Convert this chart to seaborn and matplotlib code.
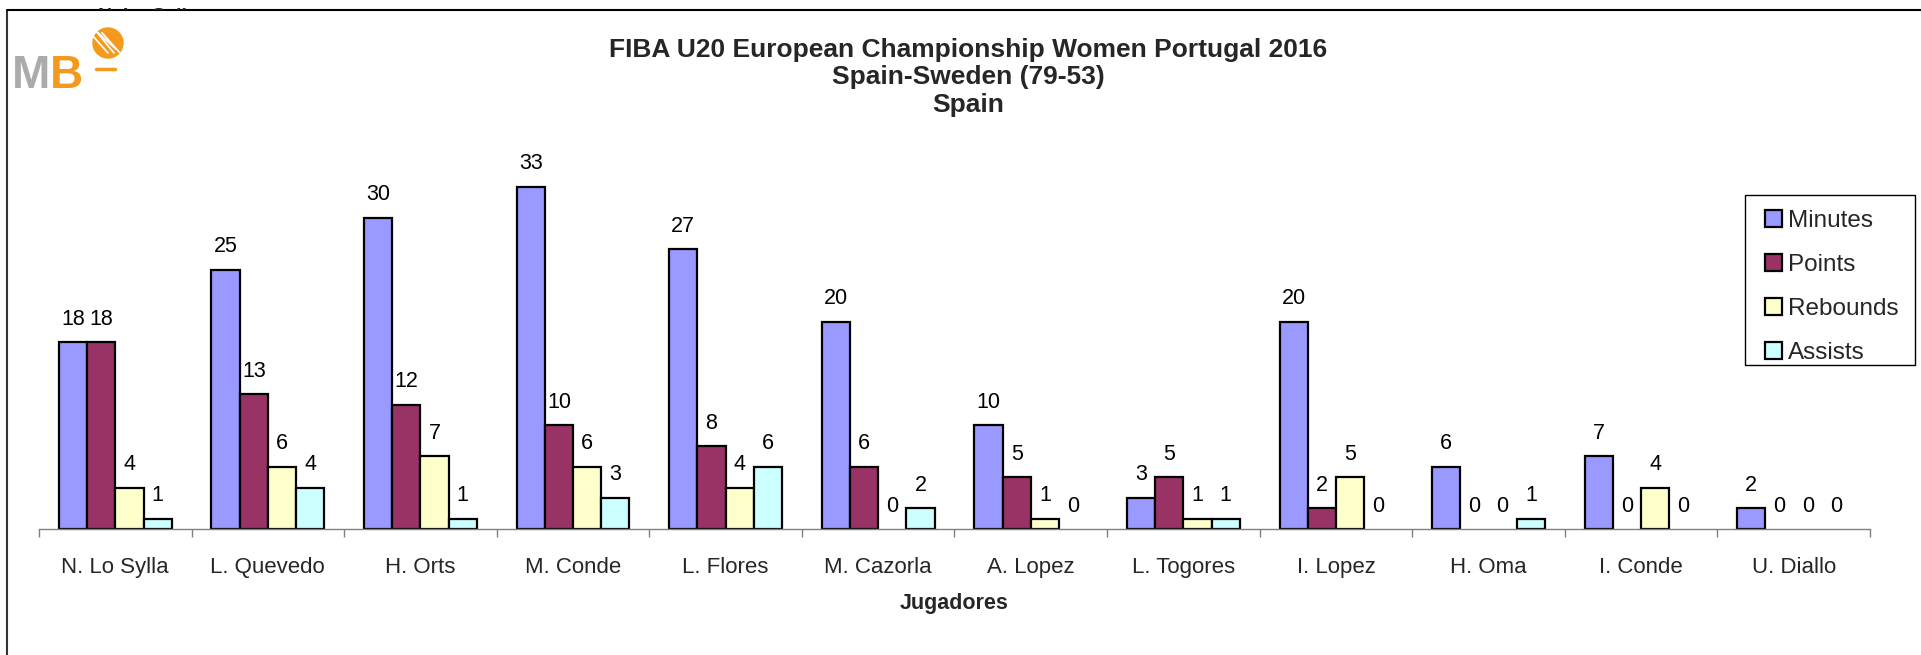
import numpy as np
import pandas as pd
import matplotlib
matplotlib.use("Agg")
import matplotlib.pyplot as plt
import seaborn as sns
from matplotlib.lines import Line2D
from matplotlib.patches import Circle, Rectangle
from matplotlib.ticker import FixedLocator
from matplotlib.transforms import Bbox

players = ["N. Lo Sylla", "L. Quevedo", "H. Orts", "M. Conde", "L. Flores", "M. Cazorla",
           "A. Lopez", "L. Togores", "I. Lopez", "H. Oma", "I. Conde", "U. Diallo"]
minutes = [18, 25, 30, 33, 27, 20, 10, 3, 20, 6, 7, 2]
points = [18, 13, 12, 10, 8, 6, 5, 5, 2, 0, 0, 0]
rebounds = [4, 6, 7, 6, 4, 0, 1, 1, 5, 0, 4, 0]
assists = [1, 4, 1, 3, 6, 2, 0, 1, 0, 1, 0, 0]
series = ["Minutes", "Points", "Rebounds", "Assists"]
colors = ["#9999FF", "#993366", "#FFFFCC", "#CCFFFF"]

title_lines = ["FIBA U20 European Championship Women Portugal 2016", "Spain-Sweden (79-53)", "Spain"]

sns.set_style("white")
plt.rcParams["font.family"] = ["Liberation Sans", "DejaVu Sans"]

rows = []
for s, vals in zip(series, [minutes, points, rebounds, assists]):
    for p, v in zip(players, vals):
        rows.append({"Player": p, "Series": s, "Value": v})
df = pd.DataFrame(rows)

W, H = 1921, 655
fig = plt.figure(figsize=(W / 100, H / 100), dpi=100)
fig.patch.set_facecolor("white")

ax_left, ax_right = 39 / W, 1870 / W
base_y = 529
ytop = 36
px_per_unit = 10.37
top_px = base_y - ytop * px_per_unit
ax = fig.add_axes([ax_left, (H - base_y) / H, ax_right - ax_left, (base_y - top_px) / H])

sns.barplot(data=df, x="Player", y="Value", hue="Series", order=players, hue_order=series,
            palette=colors, width=0.74, edgecolor="black", linewidth=1.6, saturation=1,
            ax=ax, legend=True)

for cont in ax.containers:
    for patch in cont:
        if patch.get_height() == 0:
            patch.set_linewidth(0)
            patch.set_visible(False)
    ax.bar_label(cont, fmt="%g", padding=9, fontsize=15.5, color="black")

ax.set_ylim(0, ytop)
ax.set_xlim(-0.5, len(players) - 0.5)
ax.set_yticks([])
ax.set_ylabel("")
for sp in ["top", "right", "left"]:
    ax.spines[sp].set_visible(False)
ax.spines["bottom"].set_color("#808080")
ax.spines["bottom"].set_linewidth(1.0)
ax.xaxis.set_minor_locator(FixedLocator(np.arange(-0.5, len(players), 1.0)))
ax.tick_params(axis="x", which="major", length=0, pad=20, labelsize=16)
ax.tick_params(axis="x", which="minor", length=6, width=1, color="#808080", direction="out", bottom=True)
ax.set_xlabel("Jugadores", fontsize=15.5, fontweight="bold", labelpad=11)
ax.patch.set_alpha(0)

# legend: entries placed without frame, frame drawn as a rectangle
handles, labels = ax.get_legend_handles_labels()
leg = ax.legend(handles, labels, loc="upper left",
                bbox_to_anchor=(1765 / W, 1 - 210 / H),
                bbox_transform=fig.transFigure, fontsize=17.5,
                frameon=False, borderpad=0, borderaxespad=0,
                handlelength=0.7, handleheight=0.7, handletextpad=0.25, labelspacing=0.9)
for h in leg.legend_handles:
    h.set_edgecolor("black")
    h.set_linewidth(1.6)
fig.add_artist(Rectangle((1745 / W, 1 - 365 / H), (1915 - 1745) / W, (365 - 195) / H,
                         transform=fig.transFigure, facecolor="none", edgecolor="black", lw=1.0))

for t, yp in zip(title_lines, [50, 77, 105]):
    fig.text(968 / W, 1 - yp / H, t, ha="center", va="center", fontsize=19, fontweight="bold")

# clipped header text at the very top
ht = fig.text(98 / W, 1 - 21 / H, "N. Lo Sylla", ha="left", va="baseline", fontsize=14, fontweight="bold")
ht.set_clip_box(Bbox.from_extents(0, H - 10, W, H))
ht.set_clip_on(True)

# frame lines
fig.add_artist(Line2D([7 / W, 7 / W], [0, 1 - 10 / H], transform=fig.transFigure, color="#333333", lw=1.5))
fig.add_artist(Line2D([7 / W, 1], [1 - 10 / H, 1 - 10 / H], transform=fig.transFigure, color="black", lw=1.5))

# logo
fig.text(12 / W, 1 - 88 / H, "M", ha="left", va="baseline", fontsize=33, fontweight="bold", color="#ABABAB")
fig.text(50 / W, 1 - 88 / H, "B", ha="left", va="baseline", fontsize=33, fontweight="bold", color="#F39A1E")
lax = fig.add_axes([0, 0, 1, 1], facecolor="none")
lax.set_xlim(0, W)
lax.set_ylim(H, 0)
lax.axis("off")
lax.add_patch(Circle((108, 43), 15, color="#F39A1E"))
for dx in (-6, 0, 6):
    lax.plot([96 + dx, 114 + dx], [31 + abs(dx) * 0.3, 53], color="white", lw=1.2)
lax.plot([96, 116], [31, 49], color="white", lw=1.2)
lax.plot([96, 115], [69, 69], color="#F39A1E", lw=2.5)

fig.savefig("out.png", dpi=100, facecolor="white")
